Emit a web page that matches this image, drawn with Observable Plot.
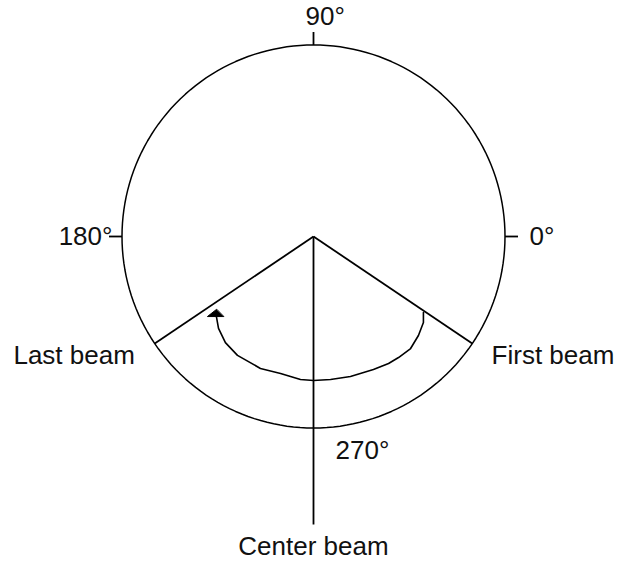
<!DOCTYPE html>
<html><head><meta charset="utf-8">
<script src="https://cdn.jsdelivr.net/npm/d3@7"></script>
<script src="https://cdn.jsdelivr.net/npm/@observablehq/plot@0.6"></script>
<style>body{margin:0;background:#fff}#chart svg{display:block}</style>
</head><body><div id="chart"></div><script>
// Polar diagram: unit circle, angles in degrees (0° = right, counter-clockwise)
const circleRadius = 1;
const tickAngles = [0, 90, 180];
const tickLength = 0.068;
const beamNames = ["First beam", "Last beam", "Center beam"];
const beamAngles = [-34, 214, 270];
const beamLengths = [1, 1, 1.504];

// sweep arc (in circle-radius units)
const arcX = [0.574, 0.574, 0.548, 0.507, 0.444, 0.392, 0.313, 0.193, 0.089, 0, -0.068, -0.172, -0.277, -0.397, -0.460, -0.496, -0.507];
const arcY = [-0.397, -0.449, -0.517, -0.585, -0.632, -0.663, -0.695, -0.731, -0.747, -0.752, -0.747, -0.715, -0.689, -0.621, -0.554, -0.480, -0.418];
const arrowX = [-0.507, -0.554, -0.470];
const arrowY = [-0.381, -0.418, -0.418];

// labels
const labelTexts = ["90°", "0°", "180°", "270°", "Last beam", "First beam", "Center beam"];
const labelX = [-0.042, 1.128, -1.050, 0.115, -1.567, 0.930, 0];
const labelY = [1.102, -0.042, -0.042, -1.164, -0.668, -0.668, -1.664];
const labelAnchors = ["start", "start", "end", "start", "start", "start", "middle"];

const rad = d => d * Math.PI / 180;
const circlePts = d3.range(0, 361, 2).map(a => ({x: circleRadius * Math.cos(rad(a)), y: circleRadius * Math.sin(rad(a))}));
const ticks = tickAngles.map(a => ({
  x1: circleRadius * Math.cos(rad(a)), y1: circleRadius * Math.sin(rad(a)),
  x2: (circleRadius + tickLength) * Math.cos(rad(a)), y2: (circleRadius + tickLength) * Math.sin(rad(a))
}));
const beams = beamNames.map((n, i) => ({name: n, x1: 0, y1: 0,
  x2: beamLengths[i] * Math.cos(rad(beamAngles[i])), y2: beamLengths[i] * Math.sin(rad(beamAngles[i]))}));
const arc = arcX.map((x, i) => ({x, y: arcY[i]}));
const arrow = arrowX.map((x, i) => ({x, y: arrowY[i]}));
const labels = labelTexts.map((t, i) => ({text: t, x: labelX[i], y: labelY[i], anchor: labelAnchors[i]}));

const unit = 191.5;
const W = 620, H = 561;
const cx = 313, cy = 236;

const chart = Plot.plot({
  width: W, height: H,
  margin: 0,
  x: {domain: [-cx / unit, (W - cx) / unit], axis: null},
  y: {domain: [-(H - cy) / unit, cy / unit], axis: null},
  style: {fontFamily: "'Liberation Sans', Arial, sans-serif", background: "#fff"},
  marks: [
    Plot.line(circlePts, {x: "x", y: "y", stroke: "black", strokeWidth: 1.5}),
    Plot.link(ticks, {x1: "x1", y1: "y1", x2: "x2", y2: "y2", stroke: "black", strokeWidth: 1.8}),
    Plot.link(beams, {x1: "x1", y1: "y1", x2: "x2", y2: "y2", stroke: "black", strokeWidth: 1.8}),
    Plot.line(arc, {x: "x", y: "y", stroke: "black", strokeWidth: 1.6, curve: "linear"}),
    Plot.line(arrow, {x: "x", y: "y", fill: "black", stroke: "black", strokeWidth: 1, curve: "linear-closed"}),
    ...["start", "middle", "end"].map(a => Plot.text(labels.filter(d => d.anchor === a), {
      x: "x", y: "y", text: "text", textAnchor: a, lineAnchor: "bottom", fontSize: 26, fill: "#111"
    }))
  ]
});
document.getElementById("chart").append(chart);
</script></body></html>
